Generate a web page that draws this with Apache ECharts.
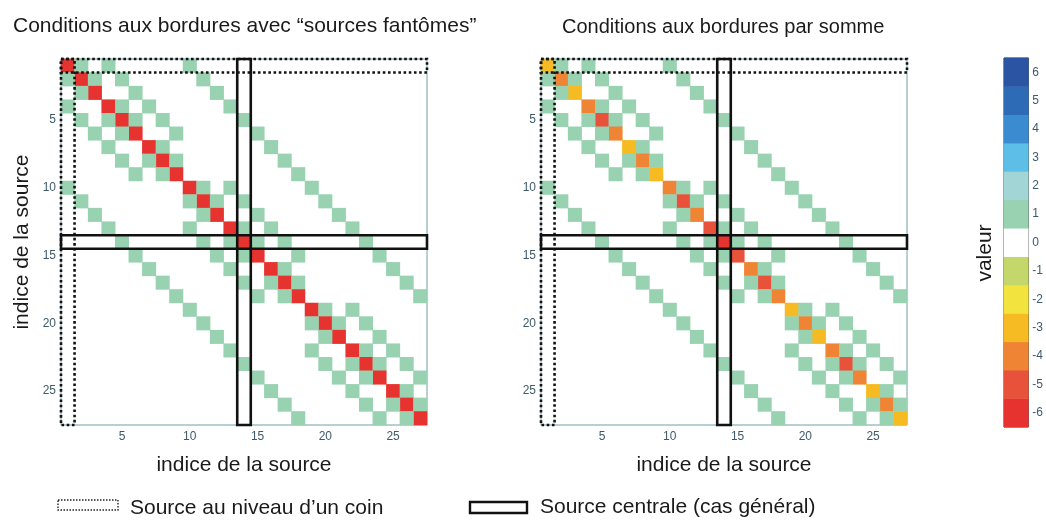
<!DOCTYPE html>
<html><head><meta charset="utf-8">
<script src="https://cdn.jsdelivr.net/npm/echarts@6/dist/echarts.min.js"></script>
<style>html,body{margin:0;padding:0;background:#fff}#c{width:1046px;height:520px}</style>
</head><body><div id="c"></div>
<script>
// ---- data ----
const indices = [1,2,3,4,5,6,7,8,9,10,11,12,13,14,15,16,17,18,19,20,21,22,23,24,25,26,27];
// off-diagonal non-zero entries (value 1) for each row
const neighbors = [
  [2,4,10],[1,3,5,11],[2,6,12],[1,5,7,13],[2,4,6,8,14],[3,5,9,15],[4,8,16],[5,7,9,17],[6,8,18],
  [1,11,13,19],[2,10,12,14,20],[3,11,15,21],[4,10,14,16,22],[5,11,13,15,17,23],[6,12,14,18,24],[7,13,17,25],[8,14,16,18,26],[9,15,17,27],
  [10,20,22],[11,19,21,23],[12,20,24],[13,19,23,25],[14,20,22,24,26],[15,21,23,27],[16,22,26],[17,23,25,27],[18,24,26]
];
const offDiagValue = 1;
const diagGhost = [-6,-6,-6,-6,-6,-6,-6,-6,-6,-6,-6,-6,-6,-6,-6,-6,-6,-6,-6,-6,-6,-6,-6,-6,-6,-6,-6];
const diagSum   = [-3,-4,-3,-4,-5,-4,-3,-4,-3,-4,-5,-4,-5,-6,-5,-4,-5,-4,-3,-4,-3,-4,-5,-4,-3,-4,-3];
const scaleValues = [-6,-5,-4,-3,-2,-1,0,1,2,3,4,5,6];
const scaleColors = ['#e6332f','#e8523a','#ef8434','#f6bb22','#f3e33e','#c4d76b','#ffffff','#98d2b0','#a2d5d6','#5dbfe7','#3a8bcf','#2e6bb6','#2b55a3'];
const cornerSource = 1;
const centralSource = 14;
const titles = ['Conditions aux bordures avec “sources fantômes”', 'Conditions aux bordures par somme'];
const axisName = 'indice de la source';

const FONT = 'Liberation Sans, Arial, sans-serif';
const n = indices.length;

function matrixData(diag){
  const out = [];
  for (let r = 0; r < n; r++){
    out.push([r, r, diag[r]]);
    neighbors[r].forEach(c => out.push([c-1, r, offDiagValue]));
  }
  return out;
}
function rectData(src){
  const k = src - 1;
  return [[0, k, n-1, k], [k, 0, k, n-1]];
}
function overlay(gi, src, dashed){
  return {
    type:'custom', xAxisIndex: gi*2, yAxisIndex: gi*2, z: 10, silent: true,
    encode:{x:[0,2], y:[1,3]},
    data: rectData(src),
    renderItem: function(params, api){
      const a = api.coord([api.value(0), api.value(1)]);
      const b = api.coord([api.value(2), api.value(3)]);
      const s = api.size([1,1]);
      return {type:'rect', shape:{
        x: Math.min(a[0],b[0]) - s[0]/2, y: Math.min(a[1],b[1]) - s[1]/2,
        width: Math.abs(b[0]-a[0]) + s[0], height: Math.abs(b[1]-a[1]) + s[1]},
        style:{fill:'none', stroke:'#111', lineWidth: 2.6, lineDash: dashed ? [2.6,2.6] : null}};
    }
  };
}
const tickShow = (i) => (i+1) % 5 === 0;
const AXC = '#6f9fab';
const LABC = '#3f5a6b';
function matAxes(gi){
  const common = {type:'category', data: indices.map(String), gridIndex: gi,
    axisLine:{show:false}, splitLine:{show:false}};
  const x1 = Object.assign({}, common, {position:'bottom',
    axisTick:{inside:true, length:3, alignWithLabel:true, interval: tickShow, lineStyle:{color:'#333'}},
    axisLabel:{interval: tickShow, color: LABC, fontSize:12, margin:6, fontFamily: FONT},
    name: axisName, nameLocation:'middle', nameGap: 30,
    nameTextStyle:{fontSize:21, color:'#1a1a1a', fontFamily: FONT}});
  const x2 = Object.assign({}, common, {position:'top',
    axisTick:{inside:true, length:3, alignWithLabel:true, interval: tickShow, lineStyle:{color:'#333'}},
    axisLabel:{show:false}});
  const y1 = Object.assign({}, common, {position:'left', inverse:true,
    axisTick:{inside:true, length:3, alignWithLabel:true, interval: tickShow, lineStyle:{color:'#333'}},
    axisLabel:{interval: tickShow, color: LABC, fontSize:12, margin:5, fontFamily: FONT}});
  if (gi === 0) Object.assign(y1, {name: axisName, nameLocation:'middle', nameGap: 28,
    nameTextStyle:{fontSize:21, color:'#1a1a1a', fontFamily: FONT}});
  const y2 = Object.assign({}, common, {position:'right', inverse:true,
    axisTick:{inside:true, length:3, alignWithLabel:true, interval: tickShow, lineStyle:{color:'#333'}},
    axisLabel:{show:false}});
  return {x:[x1,x2], y:[y1,y2]};
}
const a0 = matAxes(0), a1 = matAxes(1);
const cbX = {type:'category', data:[''], gridIndex:2, axisLine:{show:false}, axisTick:{show:false}, axisLabel:{show:false}};
const cbY1 = {type:'category', data: scaleValues.map(String), gridIndex:2, position:'right',
  axisLine:{show:false}, axisTick:{inside:true, length:4, alignWithLabel:true, lineStyle:{color:'#333'}},
  axisLabel:{color:'#3f5a6b', fontSize:12, margin:4, fontFamily: FONT}};
const cbY2 = {type:'category', data: scaleValues.map(String), gridIndex:2, position:'left',
  axisLine:{show:false}, axisTick:{inside:true, length:4, alignWithLabel:true, lineStyle:{color:'#333'}},
  axisLabel:{show:false}};

const option = {
  animation:false,
  backgroundColor:'#fff',
  textStyle:{fontFamily: FONT},
  title: [
    {text: titles[0], left: 8, top: 11, textStyle:{fontSize:21, fontWeight:'normal', color:'#1a1a1a', fontFamily: FONT}},
    {text: titles[1], left: 557, top: 12, textStyle:{fontSize:20, fontWeight:'normal', color:'#1a1a1a', fontFamily: FONT}}
  ],
  grid: [
    {left:61, top:59, width:366, height:366, show:true, borderColor:AXC, borderWidth:1, backgroundColor:'#fff'},
    {left:541, top:59, width:366, height:366, show:true, borderColor:AXC, borderWidth:1, backgroundColor:'#fff'},
    {left:1004, top:58, width:28, height:369, show:true, borderColor:'#3a3a3a', borderWidth:1, backgroundColor:'#fff'}
  ],
  xAxis: [a0.x[0], a0.x[1], a1.x[0], a1.x[1], cbX],
  yAxis: [a0.y[0], a0.y[1], a1.y[0], a1.y[1], cbY1, cbY2],
  visualMap: {type:'piecewise', show:false, seriesIndex:[0,1,2], dimension:2,
    pieces: scaleValues.map((v,i) => ({value:v, color: scaleColors[i]}))},
  series: [
    {type:'heatmap', xAxisIndex:0, yAxisIndex:0, data: matrixData(diagGhost), emphasis:{disabled:true}},
    {type:'heatmap', xAxisIndex:2, yAxisIndex:2, data: matrixData(diagSum), emphasis:{disabled:true}},
    {type:'heatmap', xAxisIndex:4, yAxisIndex:4, data: scaleValues.map((v,i) => [0, i, v]), emphasis:{disabled:true}},
    overlay(0, cornerSource, true), overlay(0, centralSource, false),
    overlay(1, cornerSource, true), overlay(1, centralSource, false)
  ],
  graphic: [
    {type:'text', x:985, y:253, rotation: Math.PI/2, style:{text:'valeur', fontSize:21, fontFamily:FONT, fill:'#1a1a1a', align:'center', verticalAlign:'middle'}},
    {type:'rect', shape:{x:58, y:500, width:60, height:10}, style:{fill:'none', stroke:'#222', lineWidth:1.4, lineDash:[1.5,1.5]}},
    {type:'text', x:130, y:508, style:{text:'Source au niveau d’un coin', fontSize:21, fontFamily:FONT, fill:'#1a1a1a', verticalAlign:'middle'}},
    {type:'rect', shape:{x:470, y:502, width:57, height:11}, style:{fill:'none', stroke:'#111', lineWidth:2.4}},
    {type:'text', x:540, y:507, style:{text:'Source centrale (cas général)', fontSize:21, fontFamily:FONT, fill:'#1a1a1a', verticalAlign:'middle'}}
  ]
};
const chart = echarts.init(document.getElementById('c'), null, {renderer:'canvas'});
chart.setOption(option);
</script></body></html>
